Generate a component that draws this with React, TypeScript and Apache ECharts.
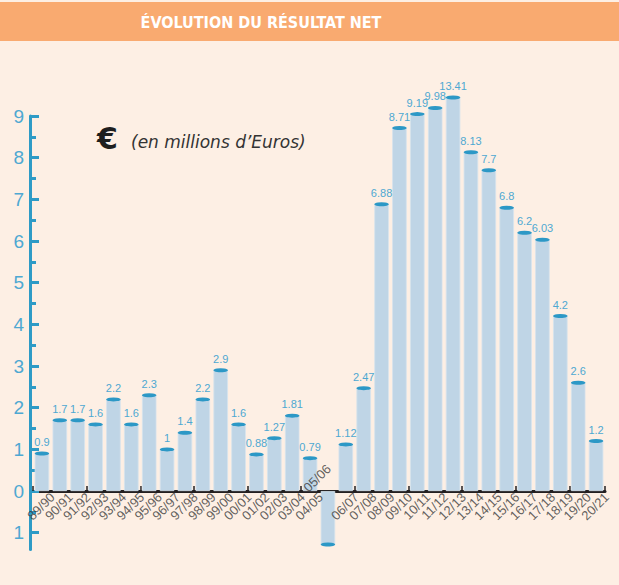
import React, { useEffect, useRef } from "react";
import * as echarts from "echarts";

const categories = [
  "89/90", "90/91", "91/92", "92/93", "93/94", "94/95", "95/96", "96/97",
  "97/98", "98/99", "99/00", "00/01", "01/02", "02/03", "03/04", "04/05",
  "05/06", "06/07", "07/08", "08/09", "09/10", "10/11", "11/12", "12/13",
  "13/14", "14/15", "15/16", "16/17", "17/18", "18/19", "19/20", "20/21",
];
const values = [
  0.9, 1.7, 1.7, 1.6, 2.2, 1.6, 2.3, 1, 1.4, 2.2, 2.9, 1.6, 0.88, 1.27, 1.81, 0.79,
  -1.28, 1.12, 2.47, 6.88, 8.71, 9.19, 9.98, 13.41, 8.13, 7.7, 6.8, 6.2, 6.03, 4.2, 2.6, 1.2,
];
const yTickLabels = [-1, 0, 1, 2, 3, 4, 5, 6, 7, 8, 9];
const yMinorTicks = [-0.5, 0.5, 1.5, 2.5, 3.5, 4.5, 5.5, 6.5, 7.5, 8.5];

const TITLE = "ÉVOLUTION DU RÉSULTAT NET";
const UNIT_SYMBOL = "€";
const UNIT_TEXT = "(en millions d’Euros)";

// The printed chart compresses everything above the top of its scale (9).
const AXIS_TOP = 9;
function toDisplay(v: number): number {
  if (v <= AXIS_TOP) return v;
  return AXIS_TOP + 0.5 * (1 - Math.exp(-(v - AXIS_TOP) / 2));
}

const BG = "#fdefe4";
const AXIS_BLUE = "#2e9bc6";
const LABEL_BLUE = "#4ea8d2";
const BAR_FILL = "#bfd5e6";
const CAP = "#2c98c6";
const DARK = "#231f20";
const CAT_TEXT = "#3a3a3a";
const FONT = "'Liberation Sans', Arial, sans-serif";

export default function App() {
  const ref = useRef<HTMLDivElement>(null);

  useEffect(() => {
    if (!ref.current) return;
    const chart = echarts.init(ref.current, undefined, { renderer: "svg" });
    const display = values.map(toDisplay);

    chart.setOption({
      animation: false,
      backgroundColor: "transparent",
      grid: {
        left: 33,
        right: 14,
        top: 116,
        bottom: 1.6,
        containLabel: false,
        outerBoundsMode: "none",
      },
      graphic: [
        { type: "rect", shape: { x: 0, y: 2, width: 619, height: 39 }, style: { fill: "#f9aa70" } },
        {
          type: "text",
          x: 261,
          y: 22,
          style: {
            text: TITLE,
            fill: "#ffffff",
            font: "bold 16px 'Liberation Sans Narrow', 'DejaVu Sans Condensed', 'Roboto Condensed', 'Liberation Sans', sans-serif",
            textAlign: "center",
            textVerticalAlign: "middle",
          },
        },
        {
          type: "text",
          x: 97,
          y: 138,
          style: {
            text: UNIT_SYMBOL,
            fill: "#1e1e1e",
            font: "bold 30px 'DejaVu Sans', sans-serif",
            textAlign: "left",
            textVerticalAlign: "middle",
          },
        },
        {
          type: "text",
          x: 131,
          y: 142,
          style: {
            text: UNIT_TEXT,
            fill: "#333333",
            font: "italic 17px 'DejaVu Sans', sans-serif",
            textAlign: "left",
            textVerticalAlign: "middle",
          },
        },
      ],
      xAxis: {
        type: "category",
        data: categories,
        boundaryGap: true,
        axisLine: { onZero: true, lineStyle: { color: DARK, width: 3 } },
        axisTick: { show: true, inside: true, length: 5, lineStyle: { color: DARK, width: 1.5 } },
        axisLabel: { show: false },
        splitLine: { show: false },
      },
      yAxis: [
        {
          type: "value",
          min: -1.4,
          max: AXIS_TOP,
          offset: 3,
          position: "left",
          axisLine: { show: true, lineStyle: { color: AXIS_BLUE, width: 3 } },
          axisTick: {
            show: true,
            inside: true,
            length: 9,
            lineStyle: { color: AXIS_BLUE, width: 3 },
            customValues: yTickLabels,
          },
          axisLabel: {
            customValues: yTickLabels,
            formatter: (v: number) => String(Math.abs(v)),
            color: LABEL_BLUE,
            fontSize: 19,
            fontFamily: FONT,
            margin: 6,
          },
          splitLine: { show: false },
        },
        {
          type: "value",
          min: -1.4,
          max: AXIS_TOP,
          offset: 3,
          position: "left",
          axisLine: { show: false },
          axisTick: {
            show: true,
            inside: true,
            length: 6,
            lineStyle: { color: AXIS_BLUE, width: 3 },
            customValues: yMinorTicks,
          },
          axisLabel: { show: false },
          splitLine: { show: false },
        },
      ],
      series: [
        {
          type: "bar",
          data: display,
          barWidth: 14.5,
          clip: false,
          itemStyle: { color: BAR_FILL, borderColor: "#d6e3ee", borderWidth: 0.8 },
          z: 2,
        },
        {
          type: "scatter",
          clip: false,
          symbol: "circle",
          symbolSize: [14.5, 4],
          itemStyle: { color: CAP, opacity: 1 },
          z: 3,
          data: display.map((d, i) => ({
            value: [categories[i], d],
            label: {
              position: values[i] < 0 ? "bottom" : "top",
              distance: values[i] < 0 ? 3 : 4,
            },
          })),
          label: {
            show: true,
            formatter: (p: any) => String(values[p.dataIndex]),
            color: LABEL_BLUE,
            fontSize: 11,
            fontFamily: FONT,
          },
        },
        {
          // category labels, placed on the zero line (above it for the negative year)
          type: "scatter",
          clip: false,
          symbolSize: 0,
          z: 4,
          silent: true,
          data: categories.map((c, i) => ({
            value: [c, 0],
            label:
              values[i] < 0
                ? {
                    position: "top",
                    distance: 6,
                    offset: [-19, -6],
                    align: "left",
                    verticalAlign: "bottom",
                  }
                : {
                    position: "bottom",
                    distance: 6,
                    offset: [9, 6],
                    align: "right",
                    verticalAlign: "middle",
                  },
          })),
          label: {
            show: true,
            rotate: 45,
            fontSize: 13,
            fontFamily: FONT,
            color: CAT_TEXT,
            formatter: (p: any) => p.value[0],
          },
        },
      ],
    });

    return () => chart.dispose();
  }, []);

  return (
    <div
      style={{
        position: "fixed",
        left: 0,
        top: 0,
        width: 619,
        height: 585,
        background: BG,
        overflow: "hidden",
      }}
    >
      <div ref={ref} style={{ width: 619, height: 551 }} />
    </div>
  );
}
